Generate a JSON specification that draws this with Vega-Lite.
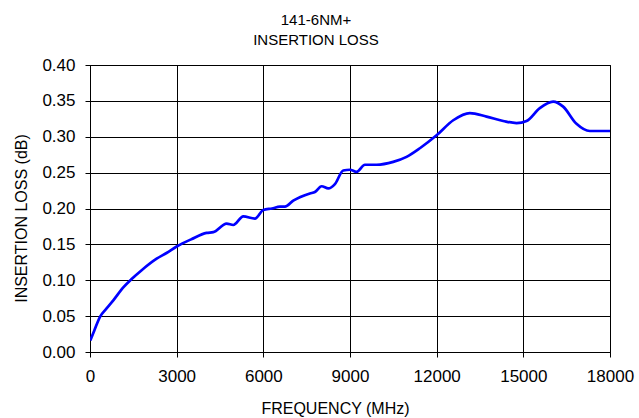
{
  "$schema": "https://vega.github.io/schema/vega-lite/v6.json",
  "autosize": "none",
  "width": 520,
  "height": 287,
  "padding": {"left": 90, "top": 65, "right": 29, "bottom": 66},
  "background": "white",
  "title": {
    "text": ["141-6NM+", "INSERTION LOSS"],
    "font": "Liberation Sans",
    "fontSize": 15,
    "fontWeight": "normal",
    "color": "black",
    "anchor": "middle",
    "dx": -34,
    "offset": 8,
    "lineHeight": 20
  },
  "config": {
    "view": {"stroke": "black", "strokeWidth": 1},
    "axis": {
      "labelFont": "Liberation Sans",
      "labelFontSize": 17,
      "labelColor": "black",
      "titleFont": "Liberation Sans",
      "titleFontSize": 16,
      "titleFontWeight": "normal",
      "titleColor": "black",
      "gridColor": "black",
      "gridOpacity": 1,
      "gridWidth": 1,
      "domainColor": "black",
      "tickColor": "black",
      "tickSize": 5
    }
  },
  "data": {
    "values": [
      {"f": 10, "il": 0.016},
      {"f": 150, "il": 0.03},
      {"f": 346, "il": 0.049},
      {"f": 560, "il": 0.06},
      {"f": 807, "il": 0.072},
      {"f": 1153, "il": 0.09},
      {"f": 1450, "il": 0.102},
      {"f": 1788, "il": 0.114},
      {"f": 2307, "il": 0.13},
      {"f": 2650, "il": 0.138},
      {"f": 3000, "il": 0.147},
      {"f": 3500, "il": 0.157},
      {"f": 4037, "il": 0.166},
      {"f": 4267, "il": 0.167},
      {"f": 4729, "il": 0.179},
      {"f": 4960, "il": 0.177},
      {"f": 5306, "il": 0.189},
      {"f": 5709, "il": 0.186},
      {"f": 6000, "il": 0.198},
      {"f": 6300, "il": 0.2},
      {"f": 6574, "il": 0.2025},
      {"f": 6747, "il": 0.2025},
      {"f": 7036, "il": 0.211},
      {"f": 7612, "il": 0.221},
      {"f": 7785, "il": 0.223},
      {"f": 8017, "il": 0.231},
      {"f": 8247, "il": 0.228},
      {"f": 8478, "il": 0.234},
      {"f": 8766, "il": 0.253},
      {"f": 8997, "il": 0.254},
      {"f": 9227, "il": 0.251},
      {"f": 9516, "il": 0.261},
      {"f": 9920, "il": 0.261},
      {"f": 10496, "il": 0.265},
      {"f": 10958, "il": 0.272},
      {"f": 11419, "il": 0.284},
      {"f": 11997, "il": 0.302},
      {"f": 12574, "il": 0.323},
      {"f": 13149, "il": 0.333},
      {"f": 13727, "il": 0.328},
      {"f": 14304, "il": 0.322},
      {"f": 14765, "il": 0.319},
      {"f": 15111, "il": 0.322},
      {"f": 15571, "il": 0.34},
      {"f": 16032, "il": 0.349},
      {"f": 16378, "il": 0.342},
      {"f": 16840, "il": 0.318},
      {"f": 17301, "il": 0.308},
      {"f": 18000, "il": 0.308}
    ]
  },
  "mark": {"type": "line", "color": "#0000FF", "strokeWidth": 2.7, "interpolate": "monotone", "clip": true},
  "encoding": {
    "x": {
      "field": "f",
      "type": "quantitative",
      "scale": {"domain": [0, 18000], "nice": false},
      "axis": {
        "title": "FREQUENCY (MHz)",
        "values": [0, 3000, 6000, 9000, 12000, 15000, 18000],
        "format": "d",
        "labelPadding": 11,
        "titlePadding": 16,
        "titleX": 245,
        "labelFlush": false,
        "grid": true
      }
    },
    "y": {
      "field": "il",
      "type": "quantitative",
      "scale": {"domain": [0, 0.4], "nice": false},
      "axis": {
        "title": "INSERTION LOSS (dB)",
        "values": [0, 0.05, 0.1, 0.15, 0.2, 0.25, 0.3, 0.35, 0.4],
        "format": ".2f",
        "labelPadding": 10,
        "titlePadding": 12,
        "titleY": 153,
        "grid": true
      }
    }
  }
}
